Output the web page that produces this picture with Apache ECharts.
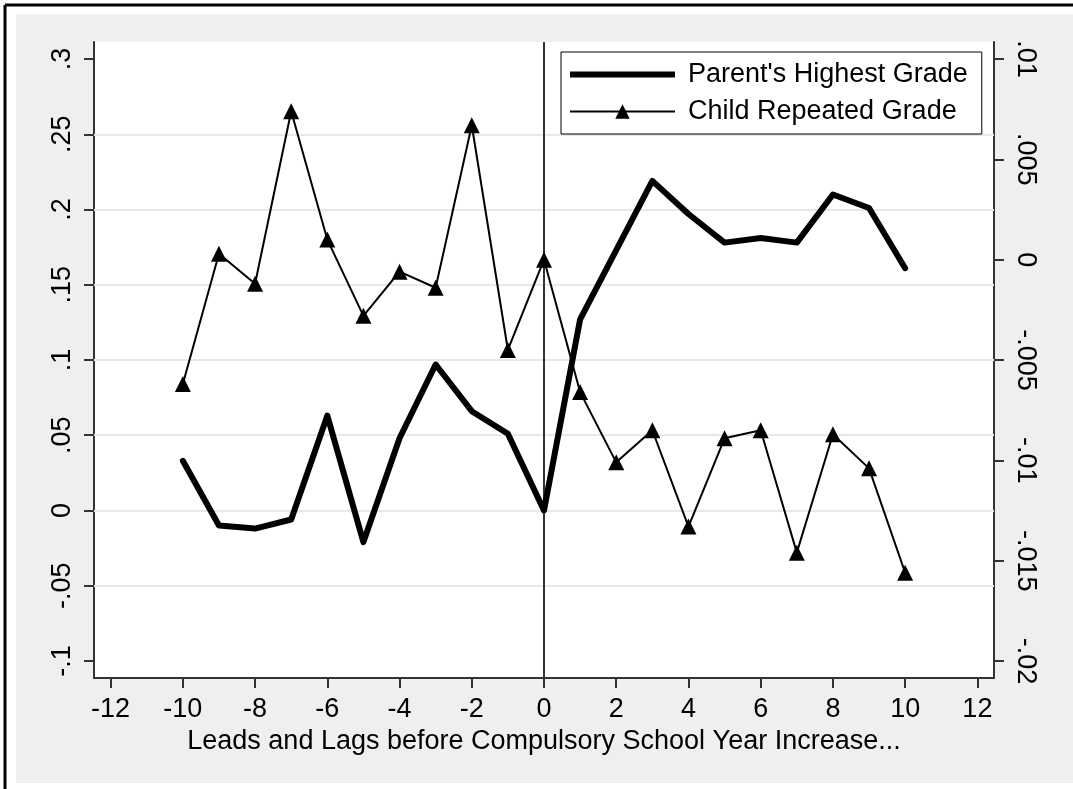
<!DOCTYPE html>
<html>
<head>
<meta charset="utf-8">
<script src="https://cdn.jsdelivr.net/npm/echarts@6/dist/echarts.min.js"></script>
<style>
  html, body { margin: 0; padding: 0; background: #fff; }
  #chart { width: 1073px; height: 789px; }
</style>
</head>
<body>
<div id="chart"></div>
<script>
// leads and lags
const years = [-10, -9, -8, -7, -6, -5, -4, -3, -2, -1, 0, 1, 2, 3, 4, 5, 6, 7, 8, 9, 10];
const parentGrade = [0.033, -0.010, -0.012, -0.006, 0.063, -0.021, 0.048, 0.097, 0.066, 0.051, 0.000,
    0.127, 0.173, 0.219, 0.197, 0.178, 0.181, 0.178, 0.210, 0.201, 0.161];
const childRepeat = [-0.0062, 0.0003, -0.0012, 0.0074, 0.0010, -0.0028, -0.0006, -0.0014, 0.0067, -0.0045, 0.0000,
    -0.0066, -0.0101, -0.0085, -0.0133, -0.0089, -0.0085, -0.0146, -0.0087, -0.0104, -0.0156];
const xTicks = [-12, -10, -8, -6, -4, -2, 0, 2, 4, 6, 8, 10, 12];
const leftTicks = [-0.1, -0.05, 0, 0.05, 0.1, 0.15, 0.2, 0.25, 0.3];
const rightTicks = [-0.02, -0.015, -0.01, -0.005, 0, 0.005, 0.01];
const gridLines = [-0.05, 0, 0.05, 0.1, 0.15, 0.2, 0.25];

function fmt(v) {
    let s = String(+v.toFixed(4));
    return s.replace(/^0\./, '.').replace(/^-0\./, '-.');
}

const chart = echarts.init(document.getElementById('chart'));
const font = 'Liberation Sans, Arial, sans-serif';
const fs = 27;

chart.setOption({
    animation: false,
    backgroundColor: '#fff',
    graphic: [
        { type: 'rect', z: -10, shape: { x: 16, y: 14, width: 1057, height: 769 }, style: { fill: '#efefef' } },
        { type: 'line', z: -9, shape: { x1: 5, y1: 5, x2: 1073, y2: 5 }, style: { stroke: '#000', lineWidth: 3 } },
        { type: 'line', z: -9, shape: { x1: 5, y1: 5, x2: 5, y2: 789 }, style: { stroke: '#000', lineWidth: 3 } },
        { type: 'rect', z: -8, shape: { x: 94, y: 42, width: 900, height: 636 }, style: { fill: '#fff' } }
    ],
    grid: { left: 94, right: 79, top: 42, bottom: 111 },
    legend: {
        orient: 'vertical',
        left: 561, top: 52,
        width: 424,
        padding: [9, 14, 9, 8],
        itemGap: 10,
        itemWidth: 105, itemHeight: 18,
        backgroundColor: '#fff',
        borderColor: '#000', borderWidth: 1,
        borderRadius: 0,
        textStyle: { fontFamily: font, fontSize: fs, color: '#000', padding: [0, 0, 0, 8] },
        data: [{
            name: "Parent's Highest Grade",
            icon: 'path://M0,0h1v0.01H0z M0,6h105v6H0z M0,17.99h1v0.01H0z'
        }, { name: 'Child Repeated Grade' }]
    },
    xAxis: {
        type: 'value',
        min: -12.46, max: 12.46,
        name: 'Leads and Lags before Compulsory School Year Increase...',
        nameLocation: 'middle',
        nameGap: 48,
        nameTextStyle: { fontFamily: font, fontSize: fs, color: '#000' },
        axisLine: { onZero: false, lineStyle: { color: '#333', width: 2 } },
        axisTick: { customValues: xTicks, length: 10, lineStyle: { color: '#333', width: 2 } },
        axisLabel: { customValues: xTicks, fontFamily: font, fontSize: fs, color: '#000', margin: 18 },
        splitLine: { show: false }
    },
    yAxis: [{
        type: 'value',
        min: -0.1113, max: 0.3113,
        axisLine: { show: true, onZero: false, lineStyle: { color: '#333', width: 2 } },
        axisTick: { show: true, customValues: leftTicks, length: 10, lineStyle: { color: '#333', width: 2 } },
        axisLabel: {
            customValues: leftTicks, rotate: 90, margin: 18,
            fontFamily: font, fontSize: fs, color: '#000', formatter: fmt
        },
        splitLine: { show: false }
    }, {
        type: 'value',
        min: -0.020847, max: 0.010847,
        position: 'right',
        axisLine: { show: true, onZero: false, lineStyle: { color: '#333', width: 2 } },
        axisTick: { show: true, customValues: rightTicks, length: 10, lineStyle: { color: '#333', width: 2 } },
        axisLabel: {
            customValues: rightTicks, rotate: -90, margin: 18,
            fontFamily: font, fontSize: fs, color: '#000', formatter: fmt
        },
        splitLine: { show: false }
    }],
    series: [{
        name: "Parent's Highest Grade",
        type: 'line',
        yAxisIndex: 0,
        data: years.map((x, i) => [x, parentGrade[i]]),
        showSymbol: false,
        symbol: 'none',
        lineStyle: { color: '#000', width: 6, join: 'round', cap: 'round' },
        itemStyle: { color: '#000' },
        z: 3,
        markLine: {
            silent: true, symbol: 'none', label: { show: false }, z: 1,
            data: gridLines.map(v => ({ yAxis: v, lineStyle: { color: '#e8e8e8', width: 2, type: 'solid' } }))
                .concat([{ xAxis: 0, lineStyle: { color: '#333', width: 2, type: 'solid' } }])
        }
    }, {
        name: 'Child Repeated Grade',
        type: 'line',
        yAxisIndex: 1,
        data: years.map((x, i) => [x, childRepeat[i]]),
        symbol: 'triangle',
        symbolSize: 16,
        lineStyle: { color: '#000', width: 2 },
        itemStyle: { color: '#000' },
        z: 4
    }]
});
</script>
</body>
</html>
